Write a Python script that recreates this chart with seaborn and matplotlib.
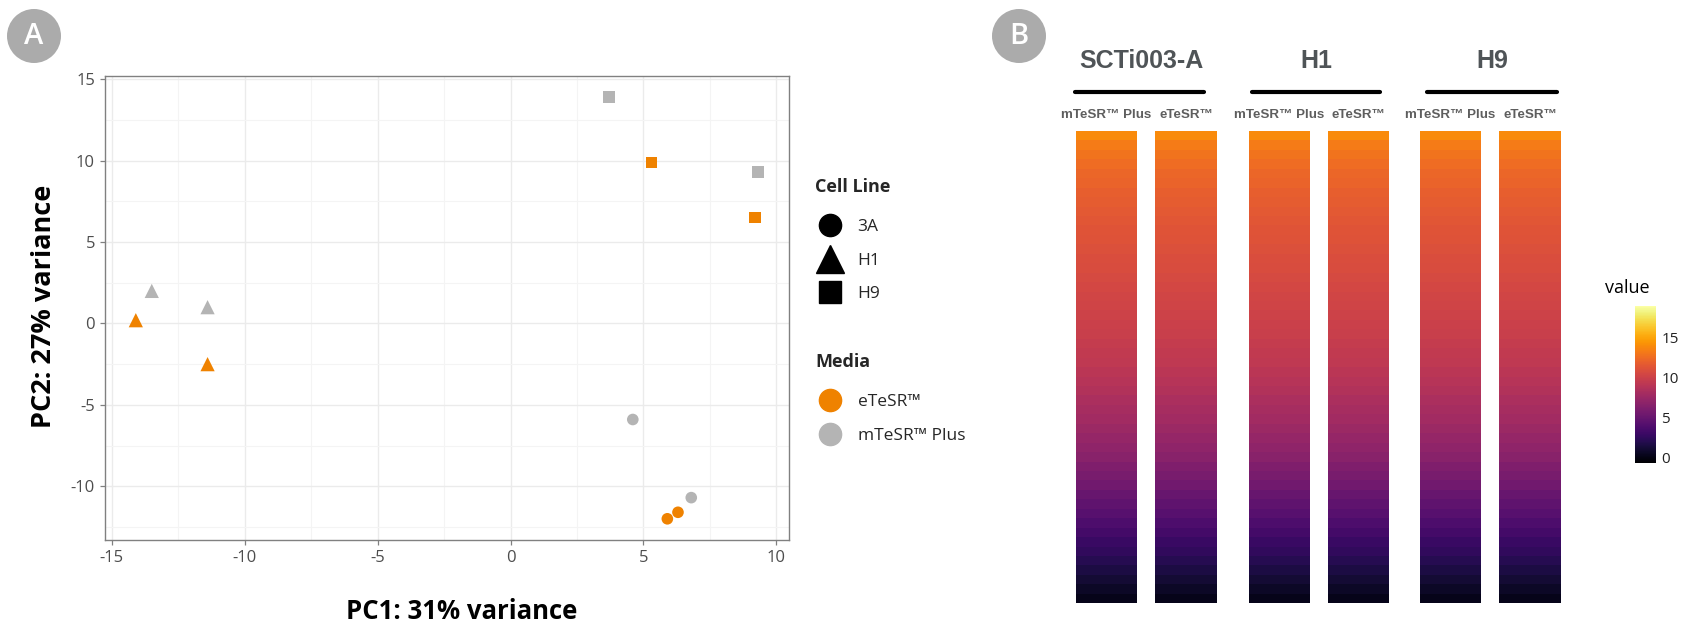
import numpy as np
import pandas as pd
import matplotlib.pyplot as plt
import matplotlib.patches as mpatches
from matplotlib.lines import Line2D
from matplotlib.ticker import MultipleLocator
import seaborn as sns

# Panel A: PCA scores
pc1 = [-14.1, -11.4, -13.5, -11.4, 5.9, 6.3, 4.6, 6.8, 5.3, 9.2, 3.7, 9.3]
pc2 = [0.2, -2.5, 2.0, 1.0, -12.0, -11.6, -5.9, -10.7, 9.9, 6.5, 13.9, 9.3]
cell_line = ['H1', 'H1', 'H1', 'H1', '3A', '3A', '3A', '3A', 'H9', 'H9', 'H9', 'H9']
media = ['eTeSR™', 'eTeSR™', 'mTeSR™ Plus', 'mTeSR™ Plus',
         'eTeSR™', 'eTeSR™', 'mTeSR™ Plus', 'mTeSR™ Plus',
         'eTeSR™', 'eTeSR™', 'mTeSR™ Plus', 'mTeSR™ Plus']

cell_order = ['3A', 'H1', 'H9']
media_order = ['eTeSR™', 'mTeSR™ Plus']

# Panel B: sorted expression profile (top -> bottom), same look in every column
groups = ['SCTi003-A', 'H1', 'H9']
sample_media = ['mTeSR™ Plus', 'eTeSR™']
expr_profile = [13.9, 13.2, 12.8, 12.5, 12.2, 12.0, 11.8, 11.65, 11.5, 11.35,
                11.2, 11.1, 10.95, 10.8, 10.7, 10.55, 10.45, 10.3, 10.2, 10.05,
                9.9, 9.8, 9.6, 9.45, 9.25, 9.0, 8.8, 8.55, 8.3, 8.05,
                7.8, 7.5, 7.2, 6.9, 6.55, 6.15, 5.8, 5.4, 5.0, 4.6,
                4.2, 3.75, 3.3, 2.85, 2.4, 1.95, 1.5, 1.05, 0.6, 0.1]
cbar_ticks = [0, 5, 10, 15]

pca = pd.DataFrame({'PC1': pc1, 'PC2': pc2, 'Cell Line': cell_line, 'Media': media})
heat = pd.DataFrame({f'{g} {m}': expr_profile for g in groups for m in sample_media})

sns.set_theme(style='white')
plt.rcParams['font.family'] = ['Open Sans', 'DejaVu Sans']

colors = {'eTeSR™': '#EF8200', 'mTeSR™ Plus': '#B4B4B4'}
markers = {'3A': 'o', 'H1': '^', 'H9': 's'}
sizes = {'3A': 70, 'H1': 105, 'H9': 70}

fig = plt.figure(figsize=(17, 6.39), dpi=100)
W, H = 1700, 639

# ---------------- Panel A ----------------
ax = fig.add_axes([0.0616, 0.155, 0.4024, 0.726])
sns.scatterplot(data=pca, x='PC1', y='PC2', hue='Media', style='Cell Line',
                size='Cell Line', hue_order=media_order, style_order=cell_order,
                palette=colors, markers=markers, sizes=sizes, linewidth=0,
                legend=False, ax=ax, zorder=3)
ax.set_xlim(-15.27, 10.47)
ax.set_ylim(-13.3, 15.2)
ax.xaxis.set_minor_locator(MultipleLocator(2.5))
ax.yaxis.set_minor_locator(MultipleLocator(2.5))
ax.grid(which='major', color='#EBEBEB', linewidth=1.0)
ax.grid(which='minor', color='#F4F4F4', linewidth=0.8)
ax.set_axisbelow(True)
for sp in ax.spines.values():
    sp.set_color('#808080')
    sp.set_linewidth(1.0)
ax.tick_params(which='major', axis='both', length=3.5, width=0.9, color='#808080',
               labelsize=12, labelcolor='#4D4D4D', left=True, bottom=True)
ax.tick_params(which='minor', length=0)
ax.set_xticks([-15, -10, -5, 0, 5, 10])
ax.set_xticklabels(['-15', '-10', '-5', '0', '5', '10'])
ax.set_yticks([-10, -5, 0, 5, 10, 15])
ax.set_yticklabels(['-10', '-5', '0', '5', '10', '15'])

ax.set_xlabel('PC1: 31% variance', fontsize=18.5, fontweight='bold', color='black')
ax.set_ylabel('PC2: 27% variance', fontsize=19.5, fontweight='bold', color='black')
ax.xaxis.set_label_coords(0.522, -0.126)
ax.yaxis.set_label_coords(-0.07, 0.503)

# legends
cell_handles = [Line2D([], [], linestyle='none', marker=markers[c], color='black',
                       markersize={'3A': 16, 'H1': 20, 'H9': 15.5}[c], label=c)
                for c in cell_order]
media_handles = [Line2D([], [], linestyle='none', marker='o', color=colors[m],
                        markersize=16, label=m) for m in media_order]
leg_kw = dict(frameon=False, fontsize=12.5, title_fontsize=13, borderpad=0,
              handlelength=1.75, handletextpad=0.7, labelspacing=1.0,
              alignment='left', borderaxespad=0)
leg1 = fig.legend(handles=cell_handles, title='Cell Line', loc='upper left',
                  bbox_to_anchor=(815 / W, 1 - 178 / H), **leg_kw)
leg2 = fig.legend(handles=media_handles, title='Media', loc='upper left',
                  bbox_to_anchor=(815 / W, 1 - 353 / H), **leg_kw)
for leg in (leg1, leg2):
    leg.get_title().set_fontweight('bold')
    leg._legend_box.sep = 1.0 * 12.5 + 4  # a bit more room under the title

# ---------------- Panel B ----------------
col_edges = [(1076, 1137), (1155, 1217), (1249, 1310), (1328, 1389), (1420, 1481), (1499, 1561)]
hm_bottom, hm_top = 0.056, 0.795
vmin, vmax = -0.75, 18.9
heat_axes = []
for (x0, x1), col in zip(col_edges, heat.columns):
    hax = fig.add_axes([x0 / W, hm_bottom, (x1 - x0) / W, hm_top - hm_bottom])
    sns.heatmap(heat[[col]], cmap='inferno', vmin=vmin, vmax=vmax, cbar=False,
                xticklabels=False, yticklabels=False, ax=hax)
    hax.set_xlabel('')
    hax.set_ylabel('')
    heat_axes.append(hax)

# sample labels above each column
sub_color = '#5E5E5E'
for (x0, x1), col in zip(col_edges, heat.columns):
    m = col.split(' ', 1)[1]
    fig.text((x0 + x1) / 2 / W, 1 - 115 / H, m, ha='center', va='center',
             fontsize=9.6, fontweight='bold', color=sub_color, family='Liberation Sans')

# group headers and bars
group_centers = [1141, 1316, 1492]
bar_spans = [(1075, 1204), (1252, 1380), (1427, 1557)]
for g, cx, (b0, b1) in zip(groups, group_centers, bar_spans):
    fig.text(cx / W, 1 - 61 / H, g, ha='center', va='center', fontsize=18,
             fontweight='bold', color='#4F5457', family='Liberation Sans')
    fig.add_artist(Line2D([b0 / W, b1 / W], [1 - 92 / H, 1 - 92 / H],
                          color='black', linewidth=3, transform=fig.transFigure))

# colour bar
cax = fig.add_axes([1635 / W, 1 - 463 / H, 21 / W, 157 / H])
cb = fig.colorbar(heat_axes[0].collections[0], cax=cax, ticks=cbar_ticks)
cb.outline.set_visible(False)
cax.yaxis.set_ticks_position('both')
cax.tick_params(axis='y', which='both', direction='in', length=4, width=1,
                color='white', labelsize=11, labelcolor='#222222', pad=4,
                left=True, right=True, labelleft=False, labelright=True)
fig.text(1605 / W, 1 - 288 / H, 'value', ha='left', va='center', fontsize=13,
         color='black')

# ---------------- panel letters ----------------
for letter, cx in [('A', 34), ('B', 1019)]:
    fig.add_artist(mpatches.Ellipse((cx / W, 1 - 36 / H), 54 / W, 54 / H,
                                    transform=fig.transFigure, facecolor='#ABABAB',
                                    edgecolor='none'))
    fig.text(cx / W, 1 - 37 / H, letter, ha='center', va='center', fontsize=21,
             fontweight='semibold', color='white')

fig.savefig('out.png', dpi=100)
